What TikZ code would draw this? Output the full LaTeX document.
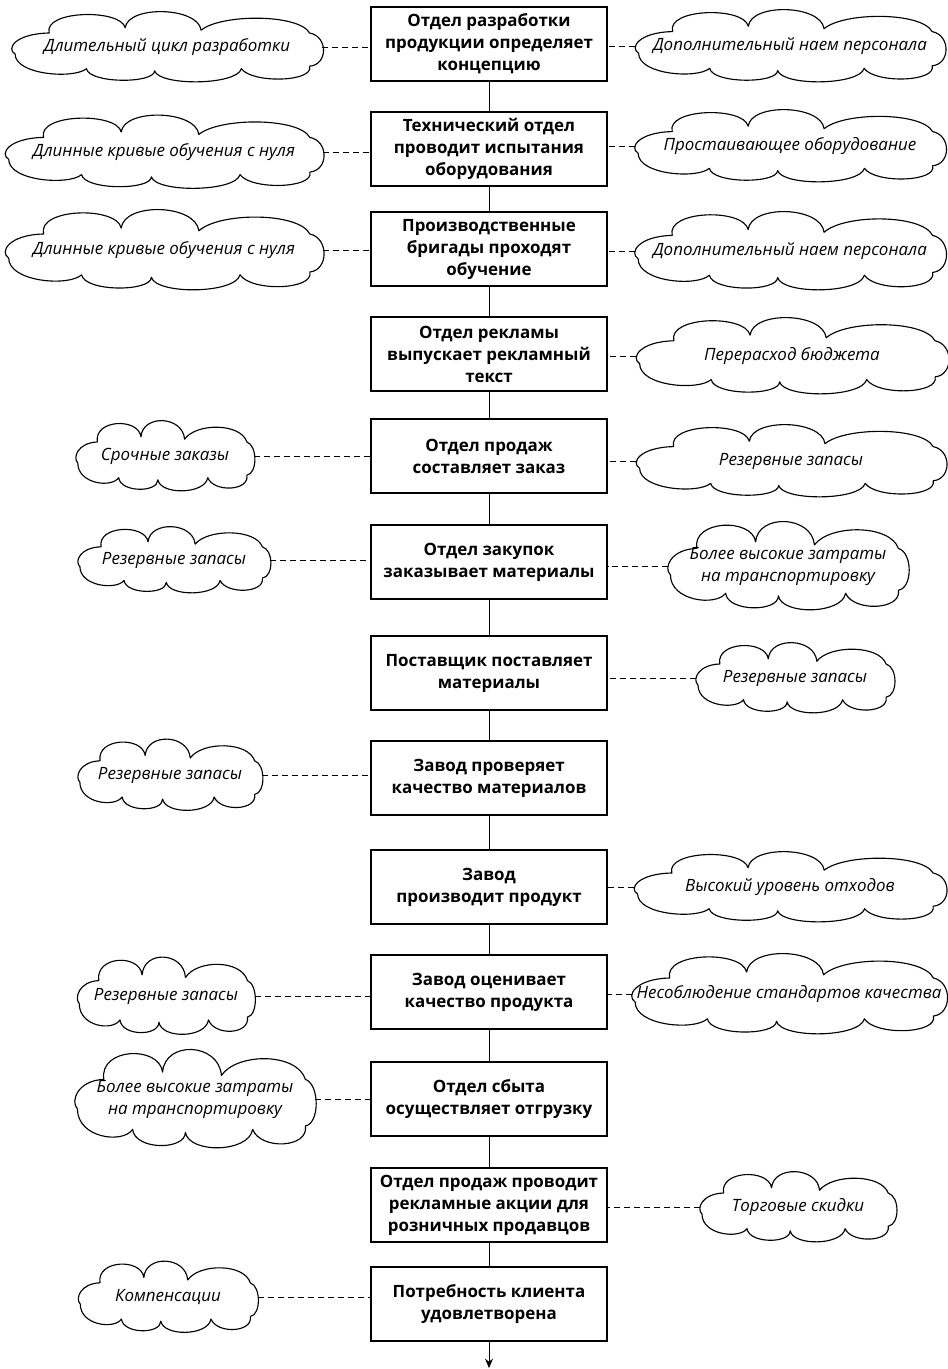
\documentclass[tikz,border=0pt]{standalone}
\usepackage{fontspec}
\setmainfont{Open Sans}
\usetikzlibrary{arrows.meta}

\tikzset{
  stepbox/.style={draw, line width=0.8pt, rectangle, minimum width=177pt,
    minimum height=55.5pt, align=center, inner sep=2pt,
    font=\fontsize{12.7}{16.5}\selectfont\bfseries},
  risk/.style={rectangle, inner sep=0pt, align=center,
    font=\fontsize{12.7}{16.5}\selectfont\itshape},
  cloudline/.style={line width=0.85pt, line join=round},
  flow/.style={line width=0.6pt},
  link/.style={line width=0.7pt, dash pattern=on 4.5pt off 3pt}
}

% cloud outline in unit coordinates (-1..1 both ways)
\newcommand{\cloudpath}{%
  (-0.98,0.20)
  .. controls (-1.04,0.05) and (-0.98,-0.38) .. (-0.76,-0.40)
  .. controls (-0.80,-1.05) and (-0.30,-1.10) .. (-0.27,-0.55)
  .. controls (-0.25,-1.20) and (0.20,-1.15) .. (0.22,-0.48)
  .. controls (0.35,-0.95) and (0.85,-0.95) .. (0.92,-0.40)
  .. controls (1.04,-0.30) and (1.04,0.50) .. (0.92,0.55)
  .. controls (0.95,1.00) and (0.55,1.05) .. (0.48,0.62)
  .. controls (0.45,1.10) and (-0.05,1.12) .. (-0.08,0.68)
  .. controls (-0.08,1.05) and (-0.50,1.05) .. (-0.52,0.62)
  .. controls (-0.60,0.92) and (-0.98,0.80) .. (-0.98,0.20) -- cycle}

% \riskcloud{name}{x}{y}{width}{height}{text}
\newcommand{\riskcloud}[6]{%
  \draw[cloudline, shift={(#2,#3)}, xscale=#4/2, yscale=#5/2] \cloudpath;
  \node[risk, minimum width=#4*0.75pt, minimum height=#5*0.75pt] (#1) at (#2,#3) {#6};}

\begin{document}
\begin{tikzpicture}[x=0.75pt, y=-0.75pt]
\useasboundingbox (0,0) rectangle (948,1369);

% process steps
\node[stepbox] (b1)  at (489,44)   {Отдел разработки\\продукции определяет\\концепцию};
\node[stepbox] (b2)  at (489,149)  {Технический отдел\\проводит испытания\\оборудования};
\node[stepbox] (b3)  at (489,249)  {Производственные\\бригады проходят\\обучение};
\node[stepbox] (b4)  at (489,354)  {Отдел рекламы\\выпускает рекламный\\текст};
\node[stepbox] (b5)  at (489,456)  {Отдел продаж\\составляет заказ};
\node[stepbox] (b6)  at (489,562)  {Отдел закупок\\заказывает материалы};
\node[stepbox] (b7)  at (489,673)  {Поставщик поставляет\\материалы};
\node[stepbox] (b8)  at (489,778)  {Завод проверяет\\качество материалов};
\node[stepbox] (b9)  at (489,887)  {Завод\\производит продукт};
\node[stepbox] (b10) at (489,992)  {Завод оценивает\\качество продукта};
\node[stepbox] (b11) at (489,1099) {Отдел сбыта\\осуществляет отгрузку};
\node[stepbox] (b12) at (489,1205) {Отдел продаж проводит\\рекламные акции для\\розничных продавцов};
\node[stepbox] (b13) at (489,1304) {Потребность клиента\\удовлетворена};
\coordinate (end) at (489,1368);

% main flow
\foreach \a/\b in {b1/b2,b2/b3,b3/b4,b4/b5,b5/b6,b6/b7,b7/b8,b8/b9,b9/b10,b10/b11,b11/b12,b12/b13}
  \draw[flow] (\a) -- (\b);
\draw[flow, -{Stealth[length=7pt,width=6pt]}] (b13) -- (end);

% left-hand risks
\riskcloud{l1}{167}{47}{310}{70}{Длительный цикл разработки}
\riskcloud{l2}{164}{152}{317}{73}{Длинные кривые обучения с нуля}
\riskcloud{l3}{164}{250}{317}{80}{Длинные кривые обучения с нуля}
\riskcloud{l5}{165}{456}{178}{70}{Срочные заказы}
\riskcloud{l6}{174}{560}{192}{66}{Резервные запасы}
\riskcloud{l8}{170}{775}{184}{71}{Резервные запасы}
\riskcloud{l10}{166}{996}{177}{77}{Резервные запасы}
\riskcloud{l11}{195}{1099}{240}{98}{Более высокие затраты\\на транспортировку}
\riskcloud{l13}{168}{1297}{179}{71}{Компенсации}

% right-hand risks
\riskcloud{r1}{790}{46}{309}{72}{Дополнительный наем персонала}
\riskcloud{r2}{790}{146}{310}{72}{Простаивающее оборудование}
\riskcloud{r3}{790}{251}{310}{78}{Дополнительный наем персонала}
\riskcloud{r4}{792}{356}{311}{76}{Перерасход бюджета}
\riskcloud{r5}{791}{461}{309}{72}{Резервные запасы}
\riskcloud{r6}{788}{566}{240}{88}{Более высокие затраты\\на транспортировку}
\riskcloud{r7}{795}{678}{198}{70}{Резервные запасы}
\riskcloud{r9}{790}{887}{311}{70}{Высокий уровень отходов}
\riskcloud{r10}{789}{994}{314}{80}{Несоблюдение стандартов качества}
\riskcloud{r12}{798}{1207}{196}{70}{Торговые скидки}

% dashed links from risks to steps
\foreach \c/\s in {l1/b1,l2/b2,l3/b3,l5/b5,l6/b6,l8/b8,l10/b10,l11/b11,l13/b13}
  \draw[link] (\c.east) -- (\c.east -| \s.west);
\foreach \c/\s in {r1/b1,r2/b2,r3/b3,r4/b4,r5/b5,r6/b6,r7/b7,r9/b9,r10/b10,r12/b12}
  \draw[link] (\c.west) -- (\c.west -| \s.east);
\end{tikzpicture}
\end{document}
